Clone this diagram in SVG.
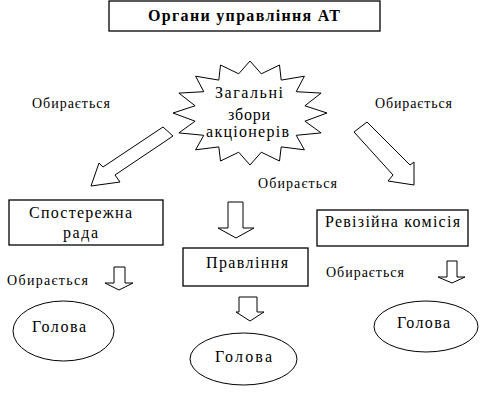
<svg xmlns="http://www.w3.org/2000/svg" width="498" height="405" viewBox="0 0 498 405" font-family="'Liberation Serif', 'DejaVu Serif', 'Times New Roman', serif">
<style>
.box{fill:#fff;stroke:#000;stroke-width:1.3}
.shp{fill:#fff;stroke:#000;stroke-width:1}
text{font-family:'Liberation Serif','DejaVu Serif','Times New Roman',serif;fill:#000}
.lbl{font-size:14px}
.t16{font-size:16px}
</style>
<rect width="498" height="405" fill="#fff"/>
<g id="title">
<rect class="box" x="109" y="1" width="271" height="30"/>
<text x="148" y="21" font-size="16" font-weight="bold" textLength="192" lengthAdjust="spacing">Органи управління АТ</text>
</g>
<g id="zbory">
<polygon class="shp" points="250,61 261.3,73.8 279.5,65 281.2,80.1 304.4,76.2 296.2,91.7 321.1,93.1 304.9,105.8 327,113 304.9,121.2 321.1,132.9 296.2,135.3 304.4,149.8 281.2,146.9 279.5,161 261.3,152.2 250,165 238.7,152.2 220.5,161 218.8,146.9 195.6,149.8 203.8,135.3 178.9,132.9 195.1,121.2 173,113 195.1,105.8 178.9,93.1 203.8,91.7 195.6,76.2 218.8,80.1 220.5,65 238.7,73.8"/>
<text class="t16" x="215" y="98" textLength="68" lengthAdjust="spacing">Загальні</text>
<text class="t16" x="228" y="120" textLength="42" lengthAdjust="spacing">збори</text>
<text class="t16" x="206" y="137" textLength="83" lengthAdjust="spacing">акціонерів</text>
</g>
<g id="sposterezhna">
<rect class="box" x="9" y="200" width="154" height="45"/>
<text class="t16" x="29" y="218" textLength="103" lengthAdjust="spacing">Спостережна</text>
<text class="t16" x="63" y="238" textLength="35" lengthAdjust="spacing">рада</text>
</g>
<g id="pravlinnia">
<rect class="box" x="183" y="248" width="125" height="38"/>
<text class="t16" x="206" y="268" textLength="82" lengthAdjust="spacing">Правління</text>
</g>
<g id="revizijna">
<rect class="box" x="317" y="210" width="151" height="36"/>
<text class="t16" x="325" y="227" textLength="135" lengthAdjust="spacing">Ревізійна комісія</text>
</g>
<g id="holova1">
<ellipse class="shp" cx="63.5" cy="331" rx="50.5" ry="30"/>
<text class="t16" x="32" y="332" textLength="54" lengthAdjust="spacing">Голова</text>
</g>
<g id="holova2">
<ellipse class="shp" cx="243.5" cy="359" rx="53.5" ry="26"/>
<text class="t16" x="215" y="362" textLength="57" lengthAdjust="spacing">Голова</text>
</g>
<g id="holova3">
<ellipse class="shp" cx="426" cy="326.5" rx="52" ry="25.5"/>
<text class="t16" x="397" y="328" textLength="53" lengthAdjust="spacing">Голова</text>
</g>
<g id="connectors">
<polygon class="shp" points="163,127 173,136 115,175 120,182 91,186 99,163 103,167"/>
<polygon class="shp" points="354,132 367,122 410,165 414,162 414,185 388,181 393,175"/>
<polygon class="shp" points="228,202 243,202 243,228 254,228 236,238 218,228 228,228"/>
<polygon class="shp" points="239,297 257,297 257,312 264,312 250,321 236,312 239,312"/>
<polygon class="shp" points="114,267 125,267 125,283 133,283 119,290 105,283 114,283"/>
<polygon class="shp" points="447,261 457,261 457,277 465,277 452,283 438,277 447,277"/>
<text class="lbl" x="32" y="108" textLength="78" lengthAdjust="spacing">Обирається</text>
<text class="lbl" x="375" y="108" textLength="77" lengthAdjust="spacing">Обирається</text>
<text class="lbl" x="258" y="188" textLength="79" lengthAdjust="spacing">Обирається</text>
<text class="lbl" x="7" y="285" textLength="81" lengthAdjust="spacing">Обирається</text>
<text class="lbl" x="326" y="277" textLength="78" lengthAdjust="spacing">Обирається</text>
</g>
</svg>
